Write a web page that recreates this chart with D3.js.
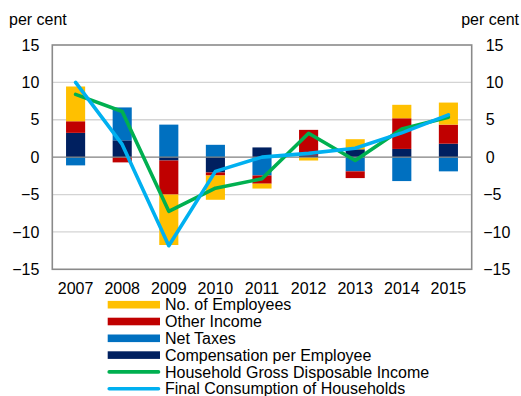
<!DOCTYPE html>
<html>
<head>
<meta charset="utf-8">
<script src="https://cdn.jsdelivr.net/npm/d3@7"></script>
<style>
  html, body { margin: 0; padding: 0; background: #fff; }
  svg { display: block; font-family: "Liberation Sans", Arial, sans-serif; }
</style>
</head>
<body>
<svg id="chart" width="521" height="396"></svg>
<script>
// Contributions to household income growth, per cent
const years = ["2007", "2008", "2009", "2010", "2011", "2012", "2013", "2014", "2015"];
const compensationPerEmployee = [3.25, 2.25, -0.45, -2.05, 1.3, 0.25, 1.05, 1.1, 1.8];
const netTaxes = [-1.1, 4.4, 4.35, 1.65, -2.45, 0, -1.9, -3.2, -1.9];
const otherIncome = [1.55, -0.7, -4.55, -0.4, -1.1, 3.4, -0.9, 4.1, 2.55];
const noOfEmployees = [4.65, 0, -6.75, -3.25, -0.65, -0.45, 1.35, 1.8, 2.95];
const householdGDI = [8.4, 6.1, -7.25, -4.15, -2.9, 3.2, -0.45, 3.75, 5.35];
const finalConsumption = [10.0, 1.7, -11.85, -1.9, 0.0, 0.5, 1.2, 3.25, 5.65];
const yTicks = [15, 10, 5, 0, -5, -10, -15];

const barSeries = [
  { key: "comp", name: "Compensation per Employee", color: "#002060", values: compensationPerEmployee },
  { key: "tax", name: "Net Taxes", color: "#0070C0", values: netTaxes },
  { key: "other", name: "Other Income", color: "#C00000", values: otherIncome },
  { key: "emp", name: "No. of Employees", color: "#FFC000", values: noOfEmployees }
];
const lineSeries = [
  { name: "Household Gross Disposable Income", color: "#00B050", values: householdGDI },
  { name: "Final Consumption of Households", color: "#00B0F0", values: finalConsumption }
];

const svg = d3.select("#chart");
const margin = { left: 52.3, right: 49.3, top: 45, bottom: 126.7 };
const W = 521, H = 396;
const x0 = margin.left, x1 = W - margin.right;
const y0 = margin.top, y1 = H - margin.bottom;

const x = d3.scaleBand().domain(years).range([x0, x1])
  .paddingInner(0.59).paddingOuter(0.295);
const y = d3.scaleLinear().domain([-15, 15]).range([y1, y0]);
const cx = yr => x(yr) + x.bandwidth() / 2;

// gridlines
svg.append("g").selectAll("line")
  .data(yTicks.filter(t => t !== 0 && t !== 15 && t !== -15))
  .join("line")
  .attr("x1", x0).attr("x2", x1)
  .attr("y1", d => y(d)).attr("y2", d => y(d))
  .attr("stroke", "#d4d4d4").attr("stroke-width", 1.3);

// stacked bars
const rows = years.map((yr, i) => {
  const r = { year: yr };
  barSeries.forEach(s => { r[s.key] = s.values[i]; });
  return r;
});
const stack = d3.stack().keys(barSeries.map(s => s.key)).offset(d3.stackOffsetDiverging);
const stacked = stack(rows);

svg.append("g").selectAll("g")
  .data(stacked)
  .join("g")
  .attr("fill", (d, i) => barSeries[i].color)
  .selectAll("rect")
  .data(d => d)
  .join("rect")
  .attr("x", d => x(d.data.year))
  .attr("width", x.bandwidth())
  .attr("y", d => y(Math.max(d[0], d[1])))
  .attr("height", d => Math.abs(y(d[0]) - y(d[1])));

// zero line
svg.append("line")
  .attr("x1", x0).attr("x2", x1)
  .attr("y1", y(0)).attr("y2", y(0))
  .attr("stroke", "#808080").attr("stroke-width", 1.3);

// lines
const lineGen = d3.line().x((d, i) => cx(years[i])).y(d => y(d));
lineSeries.forEach(s => {
  svg.append("path")
    .datum(s.values)
    .attr("d", lineGen)
    .attr("fill", "none")
    .attr("stroke", s.color)
    .attr("stroke-width", 3.6)
    .attr("stroke-linejoin", "round")
    .attr("stroke-linecap", "round");
});

// plot frame
svg.append("rect")
  .attr("x", x0).attr("y", y0)
  .attr("width", x1 - x0).attr("height", y1 - y0)
  .attr("fill", "none").attr("stroke", "#8a8a8a").attr("stroke-width", 1.6);

// axes
const fontSize = 16;
const leftAxis = d3.axisLeft(y).tickValues(yTicks).tickSize(0).tickPadding(13);
const gL = svg.append("g").attr("transform", `translate(${x0},0)`).call(leftAxis);
gL.select(".domain").remove();
gL.selectAll("text").attr("font-size", fontSize).attr("fill", "#000")
  .attr("font-family", "Liberation Sans, Arial, sans-serif");

const rightAxis = d3.axisRight(y).tickValues(yTicks).tickSize(0).tickPadding(14);
const gR = svg.append("g").attr("transform", `translate(${x1},0)`).call(rightAxis);
gR.select(".domain").remove();
gR.selectAll("text").attr("font-size", fontSize).attr("fill", "#000")
  .attr("font-family", "Liberation Sans, Arial, sans-serif")
  .attr("dx", d => d < 0 ? -2.5 : 0);

const bottomAxis = d3.axisBottom(x).tickSize(0).tickPadding(13);
const gB = svg.append("g").attr("transform", `translate(0,${y1})`).call(bottomAxis);
gB.select(".domain").remove();
gB.selectAll("text").attr("font-size", fontSize).attr("fill", "#000")
  .attr("font-family", "Liberation Sans, Arial, sans-serif");

// unit labels
svg.append("text").attr("x", 9).attr("y", 25)
  .attr("font-size", fontSize).text("per cent");
svg.append("text").attr("x", 519).attr("y", 25)
  .attr("text-anchor", "end").attr("font-size", fontSize).text("per cent");

// legend
const legendItems = [
  { name: barSeries[3].name, color: barSeries[3].color, type: "bar" },
  { name: barSeries[2].name, color: barSeries[2].color, type: "bar" },
  { name: barSeries[1].name, color: barSeries[1].color, type: "bar" },
  { name: barSeries[0].name, color: barSeries[0].color, type: "bar" },
  { name: lineSeries[0].name, color: lineSeries[0].color, type: "line" },
  { name: lineSeries[1].name, color: lineSeries[1].color, type: "line" }
];
const lg = svg.append("g");
const lx0 = 107.7, lx1 = 160, ly0 = 304.7, lstep = 16.8;
legendItems.forEach((it, i) => {
  const cy = ly0 + i * lstep;
  if (it.type === "bar") {
    lg.append("rect").attr("x", lx0).attr("y", cy - 3.8)
      .attr("width", lx1 - lx0).attr("height", 7.6).attr("fill", it.color);
  } else {
    lg.append("line").attr("x1", lx0 + 1.5).attr("x2", lx1 - 1.5)
      .attr("y1", cy).attr("y2", cy)
      .attr("stroke", it.color).attr("stroke-width", 3.6)
      .attr("stroke-linecap", "round");
  }
  lg.append("text").attr("x", 165).attr("y", cy).attr("dy", "0.36em")
    .attr("font-size", fontSize).text(it.name);
});
</script>
</body>
</html>
